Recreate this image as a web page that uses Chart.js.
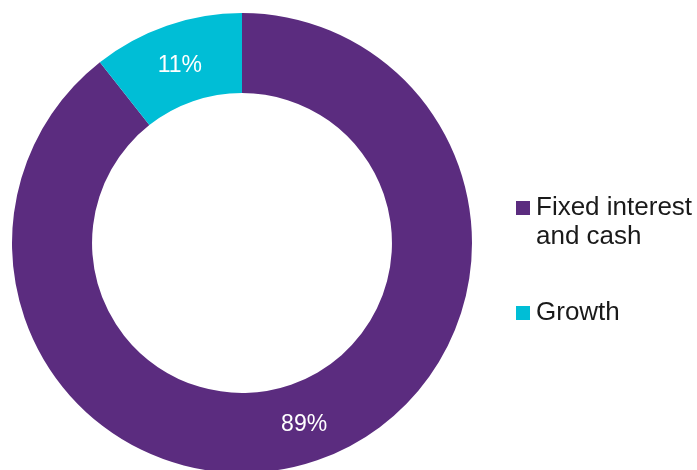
<!DOCTYPE html>
<html>
<head>
<meta charset="utf-8">
<script src="https://cdn.jsdelivr.net/npm/chart.js@4"></script>
<style>
  html, body { margin: 0; padding: 0; background: #fff; overflow: hidden; width: 697px; height: 470px; }
  #wrap { position: relative; width: 697px; height: 480px; }
  canvas { position: absolute; left: 0; top: 0; }
  .leg { position: absolute; font-family: "Liberation Sans", Arial, sans-serif; font-size: 26px; line-height: 29px; color: #1a1a1a; }
  .leg .sw { position: absolute; left: 0; width: 14px; height: 14px; }
  .leg .tx { position: absolute; left: 20px; white-space: nowrap; }
</style>
</head>
<body>
<div id="wrap">
  <canvas id="c" width="697" height="480"></canvas>
</div>
<script>
const categories = ["Fixed interest\nand cash", "Growth"];
const values = [89.4, 10.6];
const colors = ["#5B2C7F", "#00BED6"];

const labelPlugin = {
  id: 'sliceLabels',
  afterDatasetsDraw(chart) {
    const ctx = chart.ctx;
    const meta = chart.getDatasetMeta(0);
    ctx.save();
    ctx.fillStyle = '#ffffff';
    ctx.font = '23px "Liberation Sans", Arial, sans-serif';
    ctx.textAlign = 'center';
    ctx.textBaseline = 'middle';
    meta.data.forEach((arc, i) => {
      const p = arc.tooltipPosition();
      ctx.fillText(Math.round(values[i]) + '%', p.x, p.y + 2);
    });
    ctx.restore();
  }
};

new Chart(document.getElementById('c'), {
  type: 'doughnut',
  data: {
    labels: categories,
    datasets: [{
      data: values,
      backgroundColor: colors,
      borderWidth: 0
    }]
  },
  options: {
    responsive: false,
    animation: false,
    cutout: '65.2%',
    layout: { padding: { left: 12, top: 13, right: 225, bottom: 7 } },
    plugins: { legend: { display: false }, tooltip: { enabled: false } }
  },
  plugins: [labelPlugin]
});

// HTML legend built from the same arrays
const wrap = document.getElementById('wrap');
const legendTops = [192, 297];
categories.forEach((name, i) => {
  const d = document.createElement('div');
  d.className = 'leg';
  d.style.left = '516px';
  d.style.top = legendTops[i] + 'px';
  const sw = document.createElement('div');
  sw.className = 'sw';
  sw.style.background = colors[i];
  sw.style.top = '9px';
  const tx = document.createElement('div');
  tx.className = 'tx';
  tx.innerHTML = name.split('\n').join('<br>');
  d.appendChild(sw);
  d.appendChild(tx);
  wrap.appendChild(d);
});
</script>
</body>
</html>
